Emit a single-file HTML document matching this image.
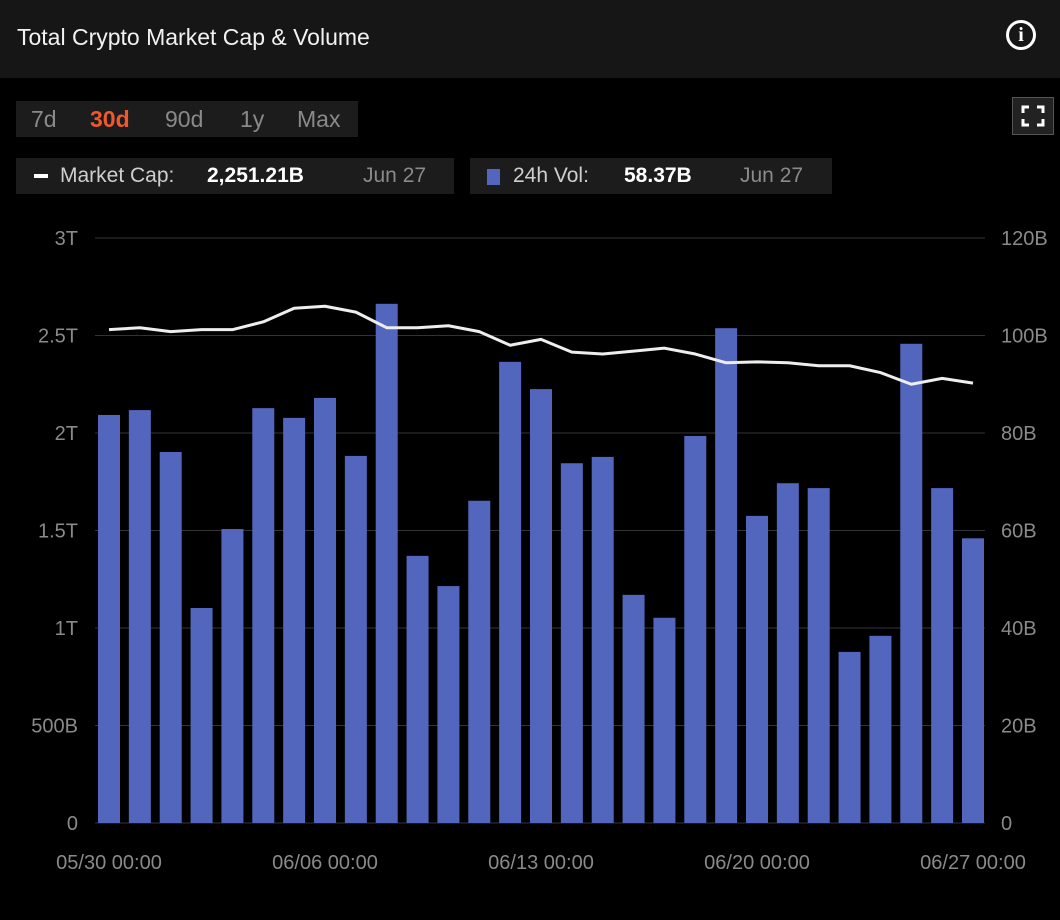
<!DOCTYPE html>
<html><head><meta charset="utf-8">
<style>
body{margin:0;width:1060px;height:920px;background:#000;font-family:"Liberation Sans",sans-serif;overflow:hidden;position:relative;color:#ddd}
.hdr{position:absolute;left:0;top:0;width:1060px;height:78px;background:#161616}
.title{position:absolute;left:17px;top:24px;font-size:23px;color:#f2f2f2}
.info{position:absolute;left:1006px;top:20px;width:30px;height:30px;border:3px solid #fff;border-radius:50%;box-sizing:border-box;color:#fff;font-weight:bold;font-size:20px;text-align:center;line-height:25px;font-family:"Liberation Serif",serif}
.tabs{position:absolute;left:16px;top:101px;width:342px;height:36px;background:#1c1c1c}
.tab{position:absolute;top:5px;font-size:23px;color:#8a8a8a}
.fs{position:absolute;left:1012px;top:97px;width:42px;height:38px;border:1px solid #555;background:#222;box-sizing:border-box}
.leg{position:absolute;top:158px;height:36px;background:#1c1c1c;font-size:21px}
.leg span{position:absolute;top:6px}
</style></head><body>
<div class="hdr">
<div class="title">Total Crypto Market Cap &amp; Volume</div>
<div class="info">i</div>
</div>
<div class="tabs">
<div class="tab" style="left:15px">7d</div>
<div class="tab" style="left:74px;color:#f0572a;font-weight:bold">30d</div>
<div class="tab" style="left:149px">90d</div>
<div class="tab" style="left:224px">1y</div>
<div class="tab" style="left:281px">Max</div>
</div>
<div class="fs">
<svg width="40" height="36" viewBox="0 0 40 36"><path d="M10 15V9h6M24 9h6v6M30 21v6h-6M16 27h-6v-6" stroke="#fff" stroke-width="3" fill="none"/></svg>
</div>
<div class="leg" style="left:16px;width:438px">
<span style="left:18px;top:16px;width:14px;height:4px;background:#fff"></span>
<span style="left:44px;color:#cfcfcf">Market Cap:</span>
<span style="left:191px;color:#fff;font-weight:bold">2,251.21B</span>
<span style="left:347px;color:#8a8a8a">Jun 27</span>
</div>
<div class="leg" style="left:470px;width:362px">
<span style="left:17px;top:11px;width:13px;height:16px;background:#5266bd"></span>
<span style="left:43px;color:#cfcfcf">24h Vol:</span>
<span style="left:154px;color:#fff;font-weight:bold">58.37B</span>
<span style="left:270px;color:#8a8a8a">Jun 27</span>
</div>
<svg id="ch" width="1060" height="920" style="position:absolute;left:0;top:0"></svg>
<script>
const volumes=[83.7,84.7,76.1,44.1,60.3,85.1,83.1,87.2,75.3,106.5,54.8,48.6,66.1,94.6,89.0,73.8,75.1,46.8,42.1,79.4,101.5,63.0,69.7,68.7,35.1,38.4,98.3,68.7,58.4];
const marketCaps=[2.53,2.54,2.52,2.53,2.53,2.57,2.64,2.65,2.62,2.54,2.54,2.55,2.52,2.45,2.48,2.415,2.405,2.42,2.435,2.405,2.36,2.365,2.36,2.345,2.345,2.31,2.25,2.28,2.256];
const leftTicks=[0,0.5,1,1.5,2,2.5,3];
const leftLabels=["0","500B","1T","1.5T","2T","2.5T","3T"];
const rightTicks=[0,20,40,60,80,100,120];
const xLabels=[["05/30 00:00",0],["06/06 00:00",7],["06/13 00:00",14],["06/20 00:00",21],["06/27 00:00",28]];
const ns="http://www.w3.org/2000/svg",svg=document.getElementById('ch');
const y0=823,yTop=238,left=95,right=985;
const yL=v=>y0-(v/3)*(y0-yTop), yR=v=>y0-(v/120)*(y0-yTop);
const n=volumes.length, step=(973-109)/(n-1), xC=i=>109+i*step;
function mk(t,a){const e=document.createElementNS(ns,t);for(const k in a)e.setAttribute(k,a[k]);svg.appendChild(e);return e;}
leftTicks.forEach((v,i)=>{
 const l=mk('line',{x1:left,x2:right,y1:yL(v),y2:yL(v),stroke:'#333','stroke-width':1});
 
 
 const t=mk('text',{x:78,y:yL(v)+7,'text-anchor':'end',fill:'#8a8a8a','font-size':20,'font-family':'Liberation Sans, sans-serif'});t.textContent=leftLabels[i];
 
 
});
rightTicks.forEach(v=>{
 const t=mk('text',{x:1001,y:yR(v)+7,fill:'#8a8a8a','font-size':20,'font-family':'Liberation Sans, sans-serif'});t.textContent=v===0?'0':v+'B';
 
 
});
volumes.forEach((v,i)=>{
 const r=mk('rect',{x:xC(i)-11,y:yR(v),width:22,height:y0-yR(v),fill:'#5266bd'});
 
 
});
let d='';marketCaps.forEach((v,i)=>{d+=(i?'L':'M')+xC(i)+' '+yL(v);});
const p=mk('path',{d:d,stroke:'#eee','stroke-width':3,fill:'none','stroke-linejoin':'round'});


xLabels.forEach(([s,i])=>{
 const t=mk('text',{x:xC(i),y:869,'text-anchor':'middle',fill:'#8a8a8a','font-size':20,'font-family':'Liberation Sans, sans-serif'});t.textContent=s;
 
 
});
</script>
</body></html>
